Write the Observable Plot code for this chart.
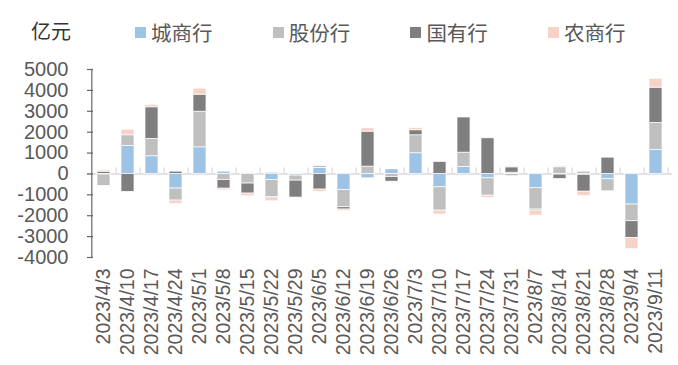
<!DOCTYPE html>
<html>
<head>
<meta charset="utf-8">
<script src="https://cdn.jsdelivr.net/npm/d3@7"></script>
<script src="https://cdn.jsdelivr.net/npm/@observablehq/plot@0.6"></script>
<style>
  html, body { margin: 0; padding: 0; background: #fff; }
  body { width: 678px; height: 365px; overflow: hidden; font-family: "Liberation Sans", "Noto Sans CJK SC", sans-serif; }
  #legend { position: relative; height: 55px; }
  #legend .unit { position: absolute; left: 31px; top: 16px; font-size: 20px; color: #333; }
  #legend .items { position: absolute; left: 135px; top: 17px; display: flex; }
  #legend .item { width: 137.7px; display: flex; align-items: center; font-size: 20.5px; color: #595959; }
  #legend .sw { width: 11px; height: 11px; margin-right: 5px; flex: none; }
</style>
</head>
<body>
<div id="legend"></div>
<div id="chart"></div>
<script>
// Weekly dates
const dates = ["2023/4/3", "2023/4/10", "2023/4/17", "2023/4/24", "2023/5/1", "2023/5/8",
  "2023/5/15", "2023/5/22", "2023/5/29", "2023/6/5", "2023/6/12", "2023/6/19",
  "2023/6/26", "2023/7/3", "2023/7/10", "2023/7/17", "2023/7/24", "2023/7/31",
  "2023/8/7", "2023/8/14", "2023/8/21", "2023/8/28", "2023/9/4", "2023/9/11"];

// Series names (stacking order) and colours
const series = ["城商行", "股份行", "国有行", "农商行"];
const colors = ["#9dc3e6", "#bfbfbf", "#7f7f7f", "#f7d3c7"];

// Weekly change by bank type, 亿元
const cityBanks = [-30, 1340, 845, -700, 1275, 110, 40, -290, -80, 290, -765, -210,
  225, 990, -640, 335, -210, 60, -685, -30, -40, -255, -1465, 1150];
const jointStockBanks = [-540, 510, 830, -575, 1705, -290, -460, -830, -240, 95, -830, 350,
  -145, 860, -1115, 685, -830, -110, -1020, 320, 110, -575, -800, 1290];
const stateBanks = [110, -860, 1515, 110, 815, -415, -480, 50, -810, -750, -110, 1675,
  -225, 240, 575, 1690, 1705, 255, -50, -210, -810, 780, -800, 1690];
const ruralBanks = [60, 270, 110, -160, 290, -80, -130, -190, 50, -110, -80, 160,
  30, 110, -190, 30, -110, 50, -240, 65, -210, 0, -540, 430];

const yTicks = [-4000, -3000, -2000, -1000, 0, 1000, 2000, 3000, 4000, 5000];

const valuesBySeries = [cityBanks, jointStockBanks, stateBanks, ruralBanks];
const rows = [];
dates.forEach((date, i) => {
  series.forEach((s, k) => rows.push({date, series: s, value: valuesBySeries[k][i]}));
});

// Legend
const legend = document.getElementById("legend");
legend.innerHTML = `<div class="unit">亿元</div><div class="items">` +
  series.map((s, k) => `<div class="item"><span class="sw" style="background:${colors[k]}"></span>${s}</div>`).join("") +
  `</div>`;

const width = 678, height = 310;
const marginLeft = 87, marginRight = 6, marginTop = 14, marginBottom = 108;
const step = (width - marginLeft - marginRight) / dates.length;

const chart = Plot.plot({
  width, height, marginLeft, marginRight, marginTop, marginBottom,
  style: {fontFamily: "'Liberation Sans', 'Noto Sans CJK SC', sans-serif", color: "#595959", background: "white"},
  x: {domain: dates, paddingInner: 0.44, paddingOuter: 0.22, label: null},
  y: {domain: [-4000, 5000], label: null},
  color: {domain: series, range: colors},
  marks: [
    Plot.ruleY([0], {stroke: "#d9d9d9", strokeWidth: 1.5}),
    Plot.ruleX(dates, {x: d => d, y1: 0, y2: 0, insetTop: -6, dx: step / 2, stroke: "#d9d9d9", strokeWidth: 1.2}),
    Plot.barY(rows, {x: "date", y: "value", fill: "series", stroke: "white", strokeWidth: 0.7}),
    Plot.ruleX([dates[0]], {x: d => d, y1: -4000, y2: 5000, dx: -step / 2, stroke: "#666", strokeWidth: 1.2}),
    Plot.ruleY(yTicks, {y: d => d, insetRight: width - marginLeft - marginRight - 6, stroke: "#666", strokeWidth: 1.2}),
    Plot.axisY(yTicks, {tickSize: 0, tickPadding: 19, fontSize: 20, tickFormat: d => String(d)}),
    Plot.axisX({tickRotate: -90, tickSize: 0, tickPadding: 11, fontSize: 19.5})
  ]
});
document.getElementById("chart").appendChild(chart);
</script>
</body>
</html>
